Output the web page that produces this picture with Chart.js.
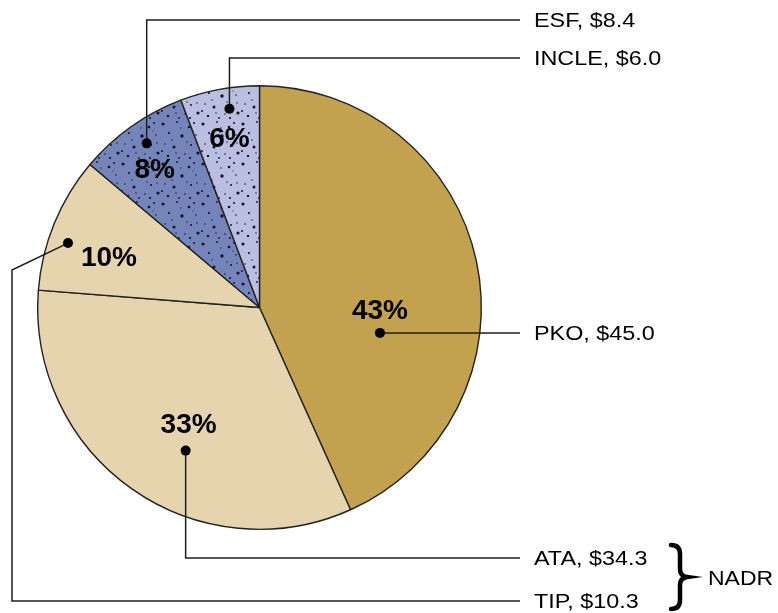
<!DOCTYPE html>
<html>
<head>
<meta charset="utf-8">
<script src="https://cdn.jsdelivr.net/npm/chart.js@4"></script>
<style>
  body { margin: 0; background: #fff; }
  #wrap { width: 778px; height: 613px; }
</style>
</head>
<body>
<div id="wrap"><canvas id="grafico" width="778" height="613"></canvas></div>
<script>
// datos del gráfico
const categorias = ['PKO', 'ATA', 'TIP', 'ESF', 'INCLE'];
const montos = [45.0, 34.3, 10.3, 8.4, 6.0];
const porcentajes = ['43%', '33%', '10%', '8%', '6%'];
const grupoNADR = ['ATA', 'TIP'];

const colores = ['#C2A24E', '#E5D4AE', '#E5D4AE', '#7585BA', '#BABEE1'];
const conPuntos = [false, false, false, true, true];

// textura de puntos (fija)
const puntosTextura = [
  [3, 4, 1.6], [17, 2, 0.9], [29, 7, 1.3], [36, 15, 0.8], [9, 13, 1.1],
  [22, 16, 1.7], [5, 24, 0.8], [14, 27, 1.5], [31, 25, 1.0], [38, 33, 1.6],
  [25, 34, 0.8], [8, 36, 1.2], [19, 38, 0.9], [34, 3, 1.0], [12, 20, 0.7],
  [27, 22, 0.7], [2, 31, 1.0], [21, 8, 0.7], [37, 23, 0.7], [30, 38, 1.1],
  [16, 33, 0.7], [33, 11, 0.6]
];

function hacerPatron(base) {
  const c = document.createElement('canvas');
  c.width = 40; c.height = 40;
  const g = c.getContext('2d');
  g.fillStyle = base;
  g.fillRect(0, 0, 40, 40);
  g.fillStyle = '#15152a';
  puntosTextura.forEach(([x, y, r]) => {
    g.beginPath();
    g.arc(x, y, r, 0, Math.PI * 2);
    g.fill();
  });
  return g.createPattern(c, 'repeat');
}

// posición de las etiquetas: ángulo (grados) y fracción del radio
const etiquetaAngulo = [11.9, 117.3, 198.6, 235.5, 261.4];
const etiquetaRadio = [0.555, 0.726, 0.911, 0.898, 0.906];
const textoOffset = [[0, -24], [3, -28], [41, 13], [8, 25], [0, 28]];
const lineaY = [333, 558, 601, 20, 58];

const xFinLinea = 520;
const xTexto = 534;

function textoEstirado(ctx, t, x, y, esc) {
  ctx.save();
  ctx.translate(x, y);
  ctx.scale(esc, 1);
  ctx.fillText(t, 0, 0);
  ctx.restore();
}

const etiquetas = {
  id: 'etiquetas',
  afterDraw(chart) {
    const ctx = chart.ctx;
    const arcos = chart.getDatasetMeta(0).data;
    const cx = arcos[0].x, cy = arcos[0].y, R = arcos[0].outerRadius;
    ctx.save();
    ctx.strokeStyle = '#1e1e1e';
    ctx.fillStyle = '#000';
    ctx.lineWidth = 1.5;

    arcos.forEach((a, i) => {
      const ang = etiquetaAngulo[i] * Math.PI / 180;
      const px = cx + R * etiquetaRadio[i] * Math.cos(ang);
      const py = cy + R * etiquetaRadio[i] * Math.sin(ang);

      ctx.beginPath();
      ctx.moveTo(px, py);
      const nombre = categorias[i];
      if (nombre === 'PKO') {
        ctx.lineTo(xFinLinea, py);
      } else if (nombre === 'TIP') {
        ctx.lineTo(12, 270);
        ctx.lineTo(12, lineaY[i]);
        ctx.lineTo(xFinLinea, lineaY[i]);
      } else {
        ctx.lineTo(px, lineaY[i]);
        ctx.lineTo(xFinLinea, lineaY[i]);
      }
      ctx.stroke();

      ctx.beginPath();
      ctx.arc(px, py, 5, 0, Math.PI * 2);
      ctx.fill();

      // porcentaje
      ctx.font = 'bold 28px "Liberation Sans", Arial, sans-serif';
      ctx.textAlign = 'center';
      ctx.textBaseline = 'alphabetic';
      ctx.fillText(porcentajes[i], px + textoOffset[i][0], py + textoOffset[i][1] + 10);

      // nombre y monto
      ctx.font = '20.5px "Liberation Sans", Arial, sans-serif';
      ctx.textAlign = 'left';
      const yl = nombre === 'PKO' ? py : lineaY[i];
      textoEstirado(ctx, nombre + ', $' + montos[i].toFixed(1), xTexto, yl + 7, 1.14);
    });

    // llave NADR
    ctx.lineWidth = 4.5;
    ctx.lineCap = 'round';
    ctx.strokeStyle = '#000';
    ctx.beginPath();
    ctx.moveTo(671, 545);
    ctx.quadraticCurveTo(680, 545, 680, 554);
    ctx.lineTo(680, 569);
    ctx.quadraticCurveTo(680, 576, 687, 577);
    ctx.quadraticCurveTo(680, 578, 680, 585);
    ctx.lineTo(680, 600);
    ctx.quadraticCurveTo(680, 609, 671, 609);
    ctx.stroke();
    ctx.font = '20.5px "Liberation Sans", Arial, sans-serif';
    ctx.textAlign = 'left';
    textoEstirado(ctx, 'NADR', 708, 585, 1.12);
    ctx.restore();
  }
};

const ctxG = document.getElementById('grafico').getContext('2d');
new Chart(ctxG, {
  type: 'pie',
  data: {
    labels: categorias,
    datasets: [{
      data: montos,
      backgroundColor: colores.map((c, i) => conPuntos[i] ? hacerPatron(c) : c),
      borderColor: '#222',
      borderWidth: 1.4
    }]
  },
  options: {
    responsive: false,
    animation: false,
    layout: { padding: { left: 37, top: 85, right: 296, bottom: 83 } },
    plugins: {
      legend: { display: false },
      tooltip: { enabled: false }
    }
  },
  plugins: [etiquetas]
});
</script>
</body>
</html>
